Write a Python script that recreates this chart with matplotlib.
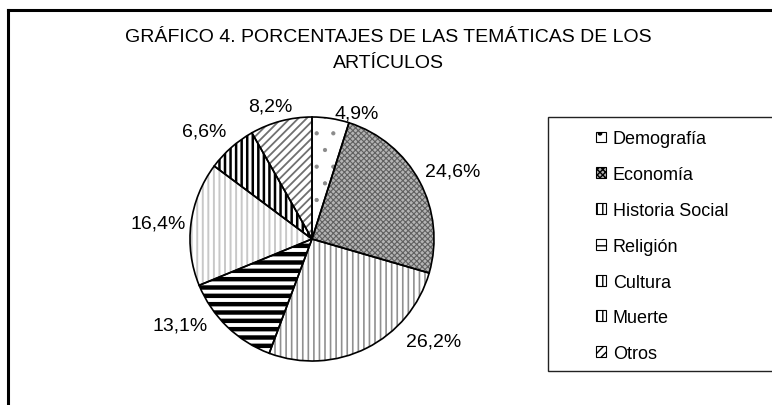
import matplotlib
matplotlib.use("Agg")
import matplotlib.pyplot as plt
from matplotlib.patches import Patch, Rectangle
from matplotlib.lines import Line2D
import numpy as np

categories = ["Demografía", "Economía", "Historia Social", "Religión", "Cultura", "Muerte", "Otros"]
values = [4.9, 24.6, 26.2, 13.1, 16.4, 6.6, 8.2]
value_labels = ["4,9%", "24,6%", "26,2%", "13,1%", "16,4%", "6,6%", "8,2%"]
title_lines = ["GRÁFICO 4. PORCENTAJES DE LAS TEMÁTICAS DE LOS", "ARTÍCULOS"]

# styles
faces = ["white", "#b4b4b4", "white", "white", "white", "white", "white"]
hatches = [".", "xxxxxx", "|||", "--", "|||", "|||", "////"]
hatch_cols = ["#8a8a8a", "#606060", "#909090", "black", "#c8c8c8", "black", "#707070"]
hatch_lws = [0.6, 0.8, 1.2, 3.2, 1.4, 1.8, 1.3]
# label positions: (angle clockwise from top in degrees, radius in pie units)
label_pos = [(19.6, 1.10), (64, 1.28), (130, 1.30), (236.7, 1.29), (276, 1.27), (315, 1.25), (342.5, 1.14)]

W, H = 772, 406
fig = plt.figure(figsize=(W / 100, H / 100), dpi=100)

# outer frame (left and top edges visible)
fig.add_artist(Line2D([8 / W, 8 / W], [0, 1 - 10.5 / H], color="black", lw=2.2, transform=fig.transFigure))
fig.add_artist(Line2D([8 / W, 1], [1 - 10.5 / H, 1 - 10.5 / H], color="black", lw=2.2, transform=fig.transFigure))

fig.text(388 / W, 1 - 38 / H, title_lines[0], ha="center", va="center", fontsize=14, family="Liberation Sans")
fig.text(388 / W, 1 - 63 / H, title_lines[1], ha="center", va="center", fontsize=14, family="Liberation Sans")

cx, cy, R = 312, 240, 122
ax = fig.add_axes([(cx - R) / W, (H - cy - R) / H, 2 * R / W, 2 * R / H])

wedges, _ = ax.pie(values, startangle=90, counterclock=False, radius=1,
                   wedgeprops=dict(linewidth=0))
for w, fc, h, hc, hl in zip(wedges, faces, hatches, hatch_cols, hatch_lws):
    w.set_facecolor(fc)
    w.set_edgecolor(hc)
    w.set_hatch(h)
    w.set_linewidth(0)
    if hasattr(w, "set_hatch_linewidth"):
        w.set_hatch_linewidth(hl)

ax.pie(values, startangle=90, counterclock=False, radius=1,
       wedgeprops=dict(facecolor="none", edgecolor="black", linewidth=1.2))
ax.set_xlim(-1, 1)
ax.set_ylim(-1, 1)
ax.set_aspect("equal")
ax.axis("off")

for lab, (ang, r) in zip(value_labels, label_pos):
    a = np.deg2rad(ang)
    ax.text(r * np.sin(a), r * np.cos(a), lab, ha="center", va="center",
            fontsize=14, family="Liberation Sans", clip_on=False)

# legend box
fig.add_artist(Rectangle((548 / W, 1 - 372 / H), (780 - 548) / W, (372 - 118) / H,
                         transform=fig.transFigure, facecolor="white", edgecolor="#222222", lw=1.0))
handles = []
for fc, h in zip(faces, hatches):
    handles.append(Patch(facecolor=fc, edgecolor="black", hatch=h, linewidth=0.8))
leg = fig.legend(handles, categories, loc="upper left", bbox_to_anchor=(591 / W, 1 - 126 / H),
                 frameon=False, prop={"family": "Liberation Sans", "size": 13},
                 handlelength=0.55, handleheight=0.55, handletextpad=0.35, labelspacing=1.04,
                 borderaxespad=0, borderpad=0.3)

fig.savefig("out.png", dpi=100)
